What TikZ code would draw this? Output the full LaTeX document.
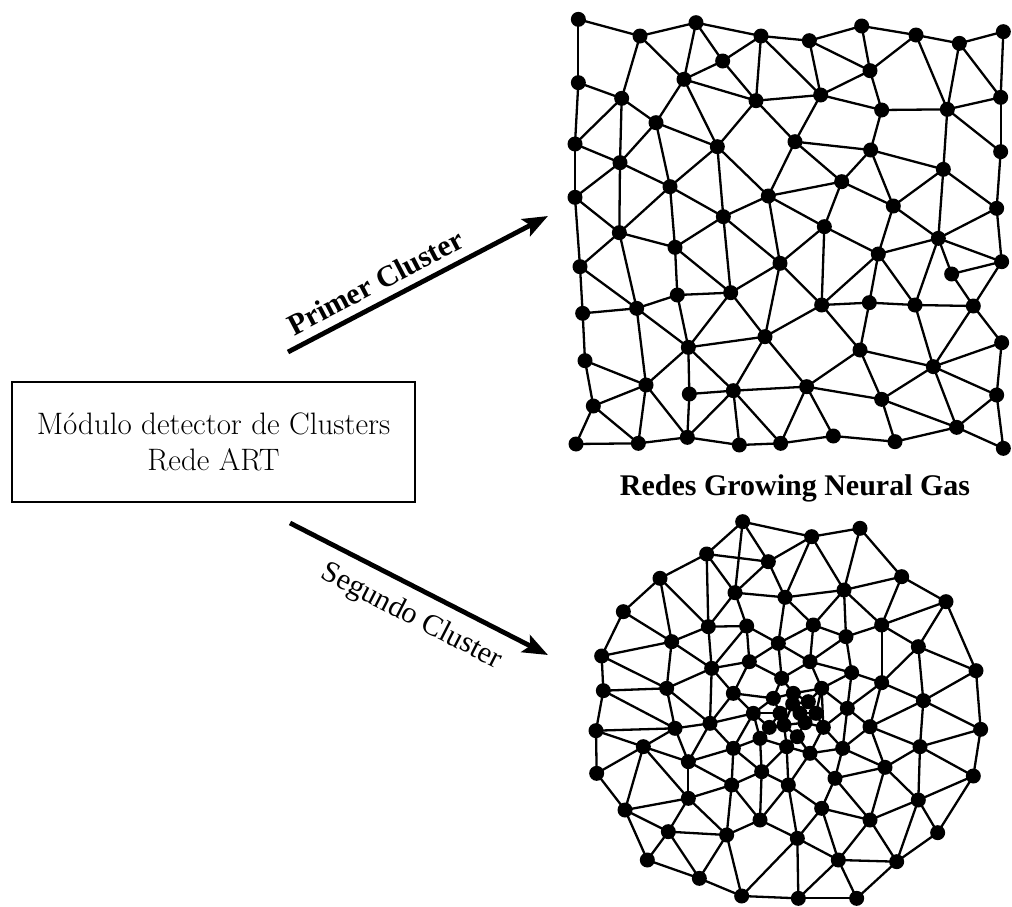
\documentclass[tikz,border=0pt]{standalone}
\usepackage{fontspec}
\newfontfamily\tnr{Liberation Serif}
\usetikzlibrary{arrows.meta}
\begin{document}
\begin{tikzpicture}[x=1pt,y=-1pt,
  modbox/.style={draw, line width=2.4pt, minimum width=403pt, minimum height=120pt,
    align=center, font=\fontsize{31}{36}\selectfont},
  clusterarrow/.style={line width=4.8pt, -{Stealth[length=25pt,width=19pt,inset=5pt]}},
  lbl/.style={font=\tnr\fontsize{30}{34}\selectfont},
  boldlbl/.style={font=\tnr\bfseries\fontsize{30}{34}\selectfont},
  edge/.style={line width=2.3pt},
  dot/.style={fill=black}]
\useasboundingbox (0,0) rectangle (1012,906);

% ART cluster detector
\node[modbox] (art) at (213.5,442) {Módulo detector de Clusters\\Rede ART};

% arrows towards the two networks
\coordinate (a1s) at (288,352);
\coordinate (a1e) at (548,216);
\coordinate (a2s) at (290,523);
\coordinate (a2e) at (548,655);
\draw[clusterarrow] (a1s) -- node[pos=0.375, sloped, above=5pt, boldlbl] (l1) {Primer Cluster} (a1e);
\draw[clusterarrow] (a2s) -- node[pos=0.52, sloped, below=9pt, lbl] (l2) {Segundo Cluster} (a2e);

\node[boldlbl, anchor=base] (gng) at (795,495) {Redes Growing Neural Gas};

% ---------- square GNG mesh ----------
\begin{scope}[xshift=560pt, x=0.33333pt, y=-0.33333pt]
\foreach \n/\p in {A1/{55,58},A2/{240,108},A3/{408,68},A4/{603,108},A5/{748,122},A6/{905,78},A7/{1068,105},A8/{1198,130},A9/{1330,95},
 B1/{488,183},B2/{930,212},B3/{55,248},B4/{372,238},B5/{185,295},B6/{588,302},B7/{782,285},B8/{965,330},B9/{1162,328},B10/{1322,292},
 B11/{288,368},B12/{45,432},B13/{472,440},B14/{705,425},B15/{932,450},B16/{1322,455},B17/{180,488},B18/{1150,508},B19/{845,545},
 B20/{330,560},B21/{45,592},B22/{625,588},B23/{1000,618},B24/{1310,625},B25/{490,650},B26/{793,680},B27/{178,698},B28/{1135,715},
 B29/{345,742},B30/{955,762},B31/{660,790},B32/{1325,785},B33/{60,800},B34/{1175,822},B35/{512,878},B36/{352,885},B37/{230,925},
 B38/{785,915},B39/{928,908},B40/{1065,915},B41/{1240,918},B42/{68,940},B43/{615,1010},B44/{385,1042},B45/{900,1050},B46/{1325,1028},
 B47/{75,1082},B48/{1120,1100},B49/{258,1155},B50/{740,1160},B51/{388,1182},B52/{520,1172},B53/{965,1198},B54/{1310,1185},
 B55/{100,1218},B56/{1190,1282},B57/{48,1332},B58/{235,1330},B59/{382,1312},B60/{538,1335},B61/{662,1330},B62/{820,1308},
 B63/{1005,1325},B64/{1330,1345}}
  \coordinate (\n) at (\p);
\end{scope}

\foreach \a/\b in {A1/A2,A2/A3,A3/A4,A4/A5,A5/A6,A6/A7,A7/A8,A8/A9,
 A1/B3,A2/B5,A2/B4,A3/B4,A3/B1,B1/A4,B1/B4,B1/B6,A4/B6,A4/B7,A5/B7,A5/B2,A6/B2,B2/A7,A7/B9,A8/B9,A8/B10,A9/B10,
 B3/B5,B3/B12,B5/B11,B5/B12,B5/B17,B4/B11,B4/B13,B4/B6,B6/B7,B6/B13,B6/B14,B7/B14,B7/B2,B7/B8,B2/B8,B8/B9,B9/B10,
 B9/B18,B10/B16,B9/B16,B8/B15,B14/B15,B15/B18,B15/B19,B15/B23,B14/B19,B14/B22,B13/B22,B13/B20,B13/B25,B11/B13,
 B11/B20,B11/B17,B12/B17,B12/B21,B17/B20,B17/B21,B17/B27,B20/B27,B20/B25,B20/B29,B21/B27,B21/B33,B22/B19,B22/B25,
 B22/B26,B22/B31,B19/B26,B19/B23,B23/B18,B18/B24,B23/B28,B18/B28,B24/B28,B24/B32,B16/B24,B26/B31,B26/B30,B26/B38,
 B23/B30,B28/B30,B28/B32,B28/B34,B28/B40,B30/B39,B30/B40,B30/B38,B34/B32,B34/B41,B32/B41,B25/B29,B25/B31,B25/B35,
 B29/B27,B29/B35,B29/B36,B27/B33,B27/B37,B33/B37,B33/B42,B36/B37,B36/B44,B36/B35,B35/B31,B35/B44,B35/B43,B31/B38,
 B31/B43,B38/B39,B38/B45,B38/B43,B39/B40,B39/B45,B40/B41,B40/B48,B41/B46,B41/B48,B37/B42,B37/B44,B37/B49,B42/B47,
 B47/B49,B47/B55,B44/B43,B44/B49,B44/B51,B44/B52,B43/B52,B43/B50,B45/B50,B45/B48,B45/B53,B48/B46,B48/B53,B48/B54,
 B48/B56,B53/B50,B53/B56,B53/B63,B50/B52,B50/B62,B50/B61,B52/B51,B52/B59,B52/B60,B52/B61,B51/B59,B49/B55,B49/B58,
 B49/B59,B55/B57,B55/B58,B57/B58,B58/B59,B59/B60,B60/B61,B61/B62,B62/B63,B63/B56,B56/B64,B56/B54,B54/B64,B54/B46}
  \draw[edge] (\a) -- (\b);

\foreach \n in {A1,A2,A3,A4,A5,A6,A7,A8,A9,B1,B2,B3,B4,B5,B6,B7,B8,B9,B10,B11,B12,B13,B14,B15,B16,B17,B18,B19,B20,
 B21,B22,B23,B24,B25,B26,B27,B28,B29,B30,B31,B32,B33,B34,B35,B36,B37,B38,B39,B40,B41,B42,B43,B44,B45,B46,B47,B48,
 B49,B50,B51,B52,B53,B54,B55,B56,B57,B58,B59,B60,B61,B62,B63,B64}
  \fill[dot] (\n) circle (7.5pt);

% ---------- circular GNG mesh ----------
\begin{scope}[xshift=560pt, yshift=-480pt, x=0.33333pt, y=-0.33333pt]
\foreach \n/\p in {c1/{548,125},c2/{755,170},c3/{900,145},c4/{1025,290},c5/{1158,365},c6/{1248,572},c7/{1262,748},
 c8/{1240,888},c9/{1133,1058},c10/{1010,1145},c11/{890,1255},c12/{715,1255},c13/{545,1248},c14/{418,1195},
 c15/{262,1140},c16/{195,990},c17/{110,880},c18/{108,752},c19/{130,632},c20/{125,528},c21/{190,395},c22/{300,295},
 c23/{440,222},
 n1/{625,245},n2/{525,338},n3/{675,352},n4/{852,330},n5/{965,435},n6/{1075,500},n7/{1090,662},n8/{1080,800},
 n9/{1075,960},n10/{930,1020},n11/{835,1140},n12/{712,1075},n13/{600,1020},n14/{500,1065},n15/{325,1055},
 n16/{385,955},n17/{250,800},n18/{345,745},n19/{320,625},n20/{335,485},n21/{445,440},n22/{560,438},n23/{760,435},
 n24/{858,470},n25/{965,608},n26/{930,740},n27/{975,862},n28/{785,985},n29/{825,895},n30/{515,915},n31/{385,845},
 n32/{450,730},n33/{455,565},n34/{568,545},n35/{655,490},n36/{750,545},n37/{875,578},n38/{862,685},n39/{848,805},
 n40/{685,915},n41/{605,875},n42/{520,805},n43/{520,640},n44/{665,595},n45/{785,625},n46/{580,700},n47/{790,742},
 n48/{750,820},n49/{600,775},n50/{680,800},n51/{700,640},n52/{660,700},n53/{720,700},n54/{640,655},n55/{745,665},
 m1/{698,672},m2/{672,735},m3/{735,728},m4/{628,742},m5/{768,700},m6/{712,770}}
  \coordinate (\n) at (\p);
\end{scope}

\foreach \a/\b in {c1/c2,c2/c3,c3/c4,c4/c5,c5/c6,c6/c7,c7/c8,c8/c9,c9/c10,c10/c11,c11/c12,c12/c13,c13/c14,c14/c15,
 c15/c16,c16/c17,c17/c18,c18/c19,c19/c20,c20/c21,c21/c22,c22/c23,c23/c1,
 c1/n1,c1/n2,c2/n1,c2/n3,c2/n4,c3/n4,c4/n4,c4/n5,c5/n5,c5/n6,c6/n6,c6/n7,c7/n7,c7/n8,c8/n8,c8/n9,c9/n9,c10/n9,
 c10/n10,c10/n11,c11/n11,c12/n11,c12/n12,c13/n12,c13/n14,c14/n14,c14/n15,c15/n15,c16/n15,c16/n16,c16/n17,c17/n17,
 c18/n17,c18/n18,c19/n19,c19/n18,c20/n19,c20/n20,c21/n20,c22/n20,c22/n21,c23/n21,c23/n2,c23/n1,
 n1/n2,n1/n3,n2/n21,n2/n22,n2/n3,n3/n35,n3/n23,n3/n4,n4/n23,n4/n24,n4/n5,n5/n6,n5/n24,n5/n25,n6/n25,n6/n7,
 n20/n21,n20/n19,n20/n33,n21/n22,n21/n33,n22/n34,n22/n35,n22/n33,n23/n35,n23/n36,n23/n24,n35/n34,n35/n36,n35/n44,
 n24/n37,n24/n36,n33/n19,n33/n34,n33/n43,n33/n32,n19/n18,n19/n32,n18/n32,n18/n17,n18/n31,n17/n31,n17/n16,n16/n31,
 n16/n30,n16/n15,n16/n14,n15/n14,n14/n30,n14/n13,n13/n12,n13/n41,n13/n40,n13/n30,n12/n40,n12/n28,n12/n11,n11/n28,
 n11/n10,n10/n9,n10/n27,n10/n28,n10/n29,n9/n8,n9/n27,n8/n7,n8/n27,n8/n26,n7/n25,n7/n26,n25/n37,n25/n38,n25/n26,
 n26/n38,n26/n27,n26/n39,n27/n29,n27/n39,n29/n28,n29/n39,n29/n48,n28/n40,n40/n41,n40/n50,n40/n48,n41/n30,n41/n42,
 n41/n49,n41/n50,n30/n42,n30/n31,n31/n42,n31/n32,n42/n32,n42/n49,n42/n46,n32/n43,n32/n46,n43/n34,n43/n46,n43/n54,
 n34/n44,n44/n36,n44/n51,n44/n54,n36/n45,n36/n37,n37/n38,n37/n45,n38/n45,n38/n47,n38/n39,n39/n47,n39/n48,n48/n47,
 n48/n50,n50/n49,n49/n46,n46/n54,n46/n52,n54/n51,n54/n52,n51/n45,n51/n55,n45/n55,n45/n47,
 m1/n51,m1/n52,m1/n53,m1/n55,m1/m2,m1/m3,m2/n52,m2/n50,m2/m3,m2/m4,m4/n52,m4/n46,m4/n49,m3/n53,m3/n47,m3/m6,
 m6/n48,m6/n50,m6/m2,m5/n55,m5/n47,m5/n45,m5/n53,n53/n55}
  \draw[edge] (\a) -- (\b);

\foreach \n in {c1,c2,c3,c4,c5,c6,c7,c8,c9,c10,c11,c12,c13,c14,c15,c16,c17,c18,c19,c20,c21,c22,c23,
 n1,n2,n3,n4,n5,n6,n7,n8,n9,n10,n11,n12,n13,n14,n15,n16,n17,n18,n19,n20,n21,n22,n23,n24,n25,n26,n27,n28,
 n29,n30,n31,n32,n33,n34,n35,n36,n37,n38,n39,n40,n41,n42,n43,n44,n45,n46,n47,n48,n49,n50,n51,n52,n53,n54,n55,
 m1,m2,m3,m4,m5,m6}
  \fill[dot] (\n) circle (7.5pt);
\end{tikzpicture}
\end{document}
